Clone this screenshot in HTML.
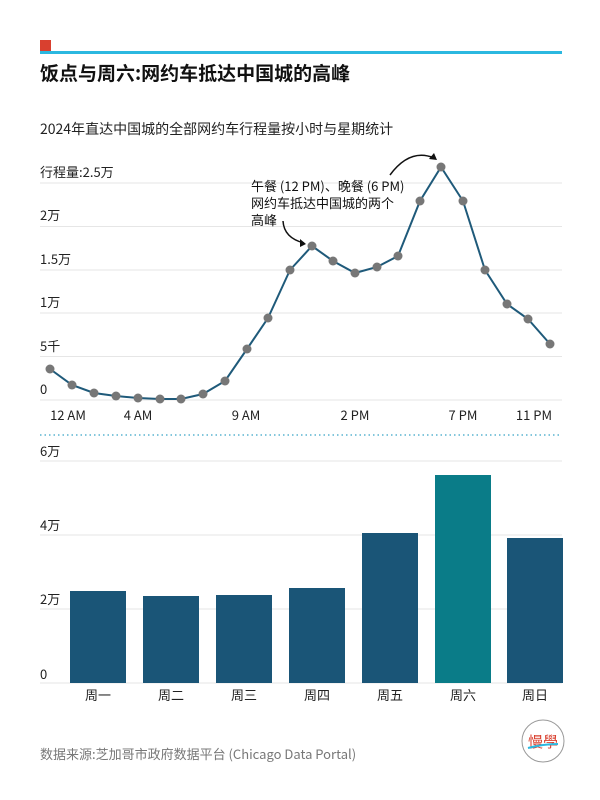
<!DOCTYPE html>
<html><head><meta charset="utf-8"><style>
body{margin:0;background:#fff;}
svg{display:block;}
text{font-family:"Noto Sans CJK SC","Liberation Sans",sans-serif;}
</style></head><body>
<svg width="600" height="800" viewBox="0 0 600 800">
<rect x="40" y="40" width="11" height="11" fill="#d9402f"/>
<rect x="40" y="51" width="522" height="3" fill="#2bb8e0"/>
<text x="40" y="80" font-size="19" font-weight="bold" fill="#111">饭点与周六:网约车抵达中国城的高峰</text>
<text x="40" y="134" font-size="14" fill="#222">2024年直达中国城的全部网约车行程量按小时与星期统计</text>
<g stroke="#e6e6e6" stroke-width="1">
<line x1="40" y1="183" x2="562" y2="183"/><line x1="40" y1="226.5" x2="562" y2="226.5"/><line x1="40" y1="270" x2="562" y2="270"/><line x1="40" y1="313" x2="562" y2="313"/><line x1="40" y1="356.5" x2="562" y2="356.5"/><line x1="40" y1="400" x2="562" y2="400"/>
</g>
<g font-size="13" fill="#222">
<text x="40" y="177">行程量:2.5万</text><text x="40" y="220">2万</text><text x="40" y="264">1.5万</text><text x="40" y="307">1万</text><text x="40" y="351">5千</text><text x="40" y="394">0</text>
</g>
<g font-size="13" fill="#222" text-anchor="middle">
<text x="68" y="420">12 AM</text><text x="138" y="420">4 AM</text><text x="246" y="420">9 AM</text><text x="355" y="420">2 PM</text><text x="463" y="420">7 PM</text><text x="534" y="420">11 PM</text>
</g>
<polyline fill="none" stroke="#1f5a7a" stroke-width="2" points="50,369 72,385 94,393 116,396 138,398 160,399 181,399 203,394 225,381 247,349 268,318 290,270 312,246 333,261 355,273 377,267 398,256 420,201 441,167 463,201 485,270 507,304 528,319 550,344"/>
<g fill="#777">
<circle cx="50" cy="369" r="4.5"/><circle cx="72" cy="385" r="4.5"/><circle cx="94" cy="393" r="4.5"/><circle cx="116" cy="396" r="4.5"/><circle cx="138" cy="398" r="4.5"/><circle cx="160" cy="399" r="4.5"/><circle cx="181" cy="399" r="4.5"/><circle cx="203" cy="394" r="4.5"/><circle cx="225" cy="381" r="4.5"/><circle cx="247" cy="349" r="4.5"/><circle cx="268" cy="318" r="4.5"/><circle cx="290" cy="270" r="4.5"/><circle cx="312" cy="246" r="4.5"/><circle cx="333" cy="261" r="4.5"/><circle cx="355" cy="273" r="4.5"/><circle cx="377" cy="267" r="4.5"/><circle cx="398" cy="256" r="4.5"/><circle cx="420" cy="201" r="4.5"/><circle cx="441" cy="167" r="4.5"/><circle cx="463" cy="201" r="4.5"/><circle cx="485" cy="270" r="4.5"/><circle cx="507" cy="304" r="4.5"/><circle cx="528" cy="319" r="4.5"/><circle cx="550" cy="344" r="4.5"/>
</g>
<g font-size="13" fill="#111">
<text x="251" y="191">午餐 (12 PM)、晚餐 (6 PM)</text>
<text x="251" y="208">网约车抵达中国城的两个</text>
<text x="251" y="225">高峰</text>
</g>
<g fill="none" stroke="#111" stroke-width="1.5">
<path d="M283,221 Q284,238 304,243"/>
<path d="M390,175 Q410,148 434,158"/>
</g>
<path d="M306,244 l-6,-5 l0,8z" fill="#111"/>
<path d="M437,160 l-3,-7 l-5,6z" fill="#111"/>
<line x1="40" y1="435" x2="562" y2="435" stroke="#5ab4d0" stroke-width="1.5" stroke-dasharray="1.5,3"/>
<g stroke="#e6e6e6" stroke-width="1">
<line x1="40" y1="461" x2="562" y2="461"/><line x1="40" y1="535" x2="562" y2="535"/><line x1="40" y1="609" x2="562" y2="609"/><line x1="40" y1="683" x2="562" y2="683"/>
</g>
<g font-size="13" fill="#222">
<text x="40" y="456">6万</text><text x="40" y="530">4万</text><text x="40" y="604">2万</text><text x="40" y="679">0</text>
</g>
<g fill="#1a5577">
<rect x="70" y="591" width="56" height="92"/><rect x="143" y="596" width="56" height="87"/><rect x="216" y="595" width="56" height="88"/><rect x="289" y="588" width="56" height="95"/><rect x="362" y="533" width="56" height="150"/><rect x="435" y="475" width="56" height="208" fill="#0a7c88"/><rect x="507" y="538" width="56" height="145"/>
</g>
<g font-size="13" fill="#222" text-anchor="middle">
<text x="98" y="700">周一</text><text x="171" y="700">周二</text><text x="244" y="700">周三</text><text x="317" y="700">周四</text><text x="390" y="700">周五</text><text x="463" y="700">周六</text><text x="535" y="700">周日</text>
</g>
<text x="40" y="759" font-size="13" fill="#777">数据来源:芝加哥市政府数据平台 (Chicago Data Portal)</text>
<circle cx="543" cy="741" r="21" fill="#fff" stroke="#999" stroke-width="1"/>
<text x="543" y="747" font-size="15" fill="#d9402f" text-anchor="middle">慢學</text>
<path d="M528,748 q15,-4 30,-4" stroke="#2bb8e0" stroke-width="2" fill="none"/>
</svg>
</body></html>
